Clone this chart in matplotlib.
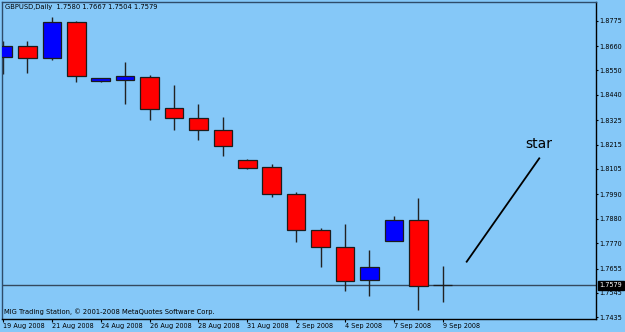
import matplotlib
matplotlib.use("Agg")
from matplotlib import pyplot as plt
from matplotlib import transforms
import numpy as np

# --- Data (GBPUSD daily) ---
dates = ["19 Aug", "20 Aug", "21 Aug", "22 Aug", "24 Aug", "25 Aug", "26 Aug",
         "27 Aug", "28 Aug", "29 Aug", "31 Aug", "1 Sep", "2 Sep", "3 Sep",
         "4 Sep", "5 Sep", "7 Sep", "8 Sep", "9 Sep"]
opens = [1.8612, 1.8662, 1.8605, 1.8768, 1.8501, 1.8508, 1.8519, 1.8379, 1.8337, 1.8281,
         1.8146, 1.8113, 1.7991, 1.7829, 1.7751, 1.7602, 1.7781, 1.7874, 1.7580]
highs = [1.8685, 1.8685, 1.8790, 1.8775, 1.8517, 1.8588, 1.8528, 1.8484, 1.8397, 1.8341,
         1.8148, 1.8127, 1.8000, 1.7837, 1.7855, 1.7740, 1.7894, 1.7975, 1.7667]
lows = [1.8534, 1.8537, 1.8597, 1.8499, 1.8498, 1.8397, 1.8326, 1.8281, 1.8236, 1.8165,
        1.8105, 1.7980, 1.7776, 1.7663, 1.7552, 1.7532, 1.7778, 1.7468, 1.7504]
closes = [1.8662, 1.8605, 1.8770, 1.8524, 1.8515, 1.8524, 1.8375, 1.8337, 1.8281, 1.8209,
          1.8111, 1.7991, 1.7829, 1.7751, 1.7597, 1.7663, 1.7874, 1.7578, 1.7579]

date_ticks = [0, 2, 4, 6, 8, 10, 12, 14, 16, 18]
date_labels = ["19 Aug 2008", "21 Aug 2008", "24 Aug 2008", "26 Aug 2008", "28 Aug 2008",
               "31 Aug 2008", "2 Sep 2008", "4 Sep 2008", "7 Sep 2008", "9 Sep 2008"]
price_ticks = [1.8775, 1.8660, 1.8550, 1.8440, 1.8325, 1.8215, 1.8105,
               1.7990, 1.7880, 1.7770, 1.7655, 1.7545, 1.7435]
price_labels = ["1.8775", "1.8660", "1.8550", "1.8440", "1.8325", "1.8215", "1.8105",
                "1.7990", "1.7880", "1.7770", "1.7655", "1.7545", "1.7435"]
last_price = 1.7579

# hand-drawn "star" annotation
star_line_x = [18.98, 21.95]
star_line_y = [1.7686, 1.8153]
star_text_pos = (21.94, 1.8200)

BG = "#85c8f8"
plt.rcParams["font.family"] = "DejaVu Sans"
plt.rcParams["font.size"] = 4.7

fig = plt.figure(figsize=(6.25, 3.32), dpi=100, facecolor=BG)
ax = fig.add_axes([0.0027, 0.0392, 0.9504, 0.9557])
ax.set_facecolor(BG)

# --- Candles ---
x = np.arange(len(dates))
o = np.array(opens); c = np.array(closes)
up = c >= o
body_low = np.minimum(o, c)
body_h = np.maximum(np.abs(c - o), 0.00008)
colors = np.where(up, "#0000ff", "#ff0000")

ax.vlines(x, lows, highs, color="#222222", lw=1.0, zorder=2)
ax.bar(x, body_h, bottom=body_low, width=0.76, color=colors,
       edgecolor="#1c1c1c", linewidth=0.9, zorder=3)

# current price line
ax.axhline(last_price, color="#34495e", lw=1.0, zorder=1)

# star annotation
ax.plot(star_line_x, star_line_y, color="black", lw=1.3, zorder=4)
ax.text(star_text_pos[0], star_text_pos[1], "star", fontsize=10,
        ha="center", va="baseline", color="black")

# --- Axes ---
ax.set_xlim(-0.053, 24.26)
ax.set_ylim(1.74271, 1.88609)

ax.set_xticks(date_ticks)
ax.set_xticklabels(date_labels, ha="left")
ax.yaxis.tick_right()
ax.set_yticks(price_ticks)
ax.set_yticklabels(price_labels)
ax.tick_params(axis="x", direction="out", length=2.2, width=0.8, pad=0.6, colors="black")
ax.tick_params(axis="y", direction="out", length=1.5, width=0.8, pad=1.2, colors="black")

for side in ["left", "top"]:
    ax.spines[side].set_color("#2e4c6a")
for side in ["right", "bottom"]:
    ax.spines[side].set_color("black")
for s in ax.spines.values():
    s.set_linewidth(1.0)

# current price box on the right scale
trans = transforms.blended_transform_factory(ax.transAxes, ax.transData)
ax.text(1.0065, last_price, "1.7579", transform=trans, color="white", va="center",
        ha="left", fontsize=4.7, zorder=10, clip_on=False,
        bbox=dict(facecolor="black", edgecolor="black", pad=0.9))

# header and footer text
ax.text(0.0056, 0.983, "GBPUSD,Daily  1.7580 1.7667 1.7504 1.7579",
        transform=ax.transAxes, va="center", ha="left", fontsize=4.9)
ax.text(0.004, 0.0236, "MIG Trading Station, \u00a9 2001-2008 MetaQuotes Software Corp.",
        transform=ax.transAxes, va="center", ha="left", fontsize=4.9)

fig.savefig("out.png", dpi=100, facecolor=BG)
